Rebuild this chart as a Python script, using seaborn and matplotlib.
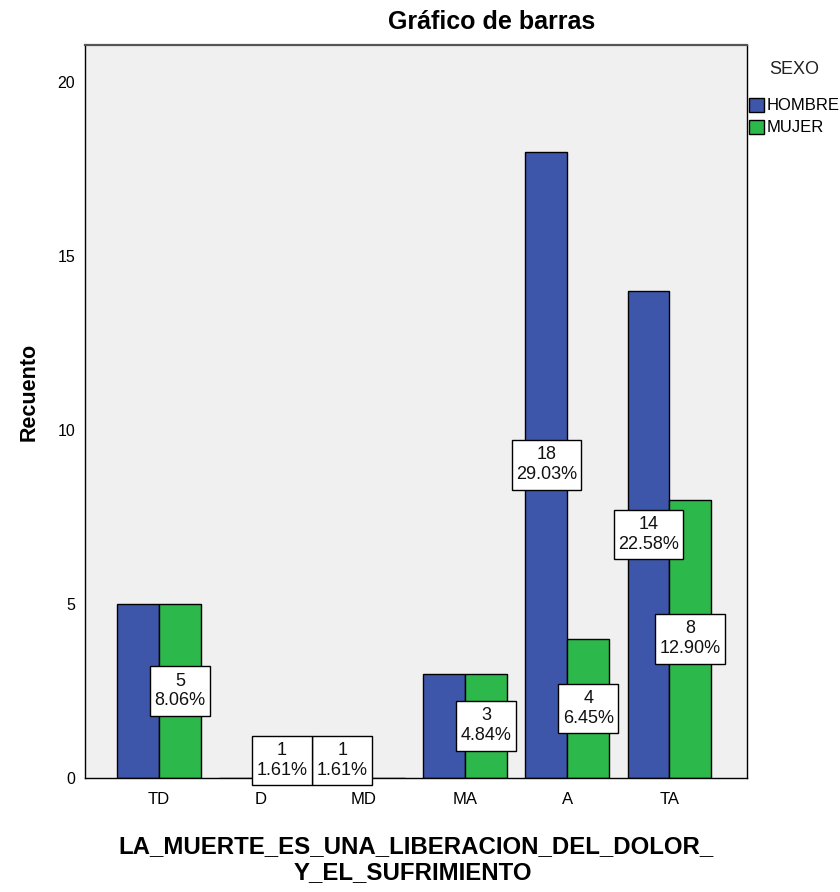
import matplotlib
matplotlib.use("Agg")
import matplotlib.pyplot as plt
import seaborn as sns
import pandas as pd
from matplotlib.path import Path

categories = ["TD", "D", "MD", "MA", "A", "TA"]
hombre = [5, 0, 1, 3, 18, 14]
mujer = [5, 1, 0, 3, 4, 8]
series_names = ["HOMBRE", "MUJER"]
colors = ["#3D56AA", "#2DB84B"]
yticks = [0, 5, 10, 15, 20]

df = pd.DataFrame({
    "cat": categories * 2,
    "SEXO": [series_names[0]] * len(categories) + [series_names[1]] * len(categories),
    "n": hombre + mujer,
})
total = sum(hombre) + sum(mujer)

sns.set_theme(style="white")
plt.rcParams["font.family"] = ["Liberation Sans", "DejaVu Sans"]
for k in ["text.color", "axes.labelcolor", "xtick.color", "ytick.color"]:
    plt.rcParams[k] = "black"

W, H = 840, 892
fig = plt.figure(figsize=(W / 100, H / 100), dpi=100)
ax = fig.add_axes([85 / W, 1 - 778 / H, (747 - 85) / W, (778 - 45) / H])
ax.set_facecolor("#F0F0F0")

sns.barplot(data=df, x="cat", y="n", hue="SEXO", order=categories,
            hue_order=series_names, palette=colors, width=0.82,
            edgecolor="black", linewidth=1.0, saturation=1, ax=ax, legend=True)

ax.set_xlim(-0.725, 5.76)
ax.set_ylim(0, 21.06)
ax.set_yticks(yticks)
ax.set_yticklabels([str(t) for t in yticks], fontsize=11.5)
ax.tick_params(axis="y", direction="out", length=5, width=1, color="black", pad=2)
ax.tick_params(axis="x", direction="out", length=6, width=1, color="black", labelsize=12, pad=4)
for s in ax.spines.values():
    s.set_color("black")
    s.set_linewidth(1.0)
ax.spines["top"].set_color("#555555")
ax.spines["top"].set_linewidth(1.6)


def label_box(x0, y0, width, height, mutation_size):
    px = 0.24 * mutation_size
    py = 0.36 * mutation_size
    x0, y0 = x0 - px, y0 - py
    x1, y1 = x0 + width + 2 * px, y0 + height + 2 * py
    return Path([(x0, y0), (x1, y0), (x1, y1), (x0, y1), (x0, y0)], closed=True)


# value labels (SPSS hides the HOMBRE label when both bars are equal)
vals = [hombre, mujer]
for si, cont in enumerate(ax.containers):
    for ci, bar in enumerate(cont):
        v = vals[si][ci]
        if v <= 0:
            continue
        if si == 0 and hombre[ci] == mujer[ci]:
            continue
        xc = bar.get_x() + bar.get_width() / 2
        ax.text(xc, v / 2, f"{v}\n{v / total * 100:.2f}%", ha="center", va="center",
                fontsize=13, linespacing=1.2, color="#111111", zorder=5,
                bbox=dict(boxstyle=label_box, fc="white", ec="black", lw=1.0))

ax.set_xlabel("")
ax.set_ylabel("")
fig.text(29 / W, 1 - 392 / H, "Recuento", rotation=90, ha="center", va="center",
         fontsize=15.5, fontweight="bold")
fig.text(416 / W, 1 - 847 / H, "LA_MUERTE_ES_UNA_LIBERACION_DEL_DOLOR_", ha="center",
         va="center", fontsize=17.3, fontweight="bold")
fig.text(413 / W, 1 - 873 / H, "Y_EL_SUFRIMIENTO", ha="center", va="center",
         fontsize=17.3, fontweight="bold")
fig.text(492 / W, 1 - 22 / H, "Gráfico de barras", ha="center", va="center",
         fontsize=18, fontweight="bold")

fig.text(794 / W, 1 - 70 / H, "SEXO", ha="center", va="center", fontsize=13, color="#222222")
leg = ax.legend(loc="upper left", bbox_to_anchor=(1.0, (778 - 96) / (778 - 45)),
                frameon=False, fontsize=12, handlelength=0.9, handleheight=0.9,
                handletextpad=0.15, labelspacing=0.38, borderaxespad=0.0, borderpad=0.1)

fig.savefig("out.png", dpi=100)
